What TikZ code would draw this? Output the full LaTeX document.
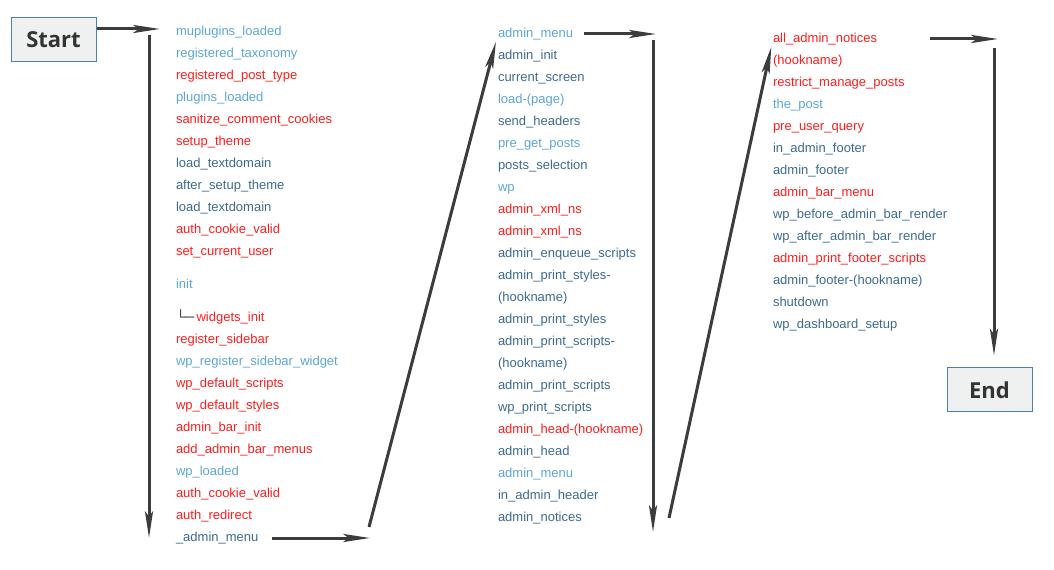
\documentclass[tikz,border=0pt]{standalone}
\usepackage{fontspec}
\setmainfont{Liberation Sans}
\newfontfamily\labelfont{Open Sans}
\usetikzlibrary{arrows.meta,positioning}
\definecolor{hookred}{HTML}{FF1C1C}
\definecolor{hookpale}{HTML}{5DA5D8}
\definecolor{hookdark}{HTML}{3D6990}
\definecolor{flowgray}{HTML}{3C3C3C}
\definecolor{boxfill}{HTML}{EFF0F0}
\definecolor{boxline}{HTML}{4A80AA}
\tikzset{
    terminal/.style={draw=boxline,fill=boxfill,line width=0.75pt,minimum width=63.75pt,minimum height=33pt,inner sep=0pt,text=black!80,font=\labelfont\bfseries\fontsize{16.5}{20}\selectfont},
    hook/.style={inner sep=0pt,outer sep=0pt,text height=8pt,text depth=2.5pt,font=\fontsize{9.75}{11}\selectfont},
    redhook/.style={hook,text=hookred},
    palehook/.style={hook,text=hookpale},
    darkhook/.style={hook,text=hookdark},
    hookbelow/.style={below=6pt of #1.south west,anchor=north west},
    gapbelow/.style={below=14.25pt of #1.south west,anchor=north west},
    flow/.style={-{Stealth[length=20pt,width=6pt,inset=4pt]},line width=2.25pt,draw=flowgray}
}

\begin{document}
\begin{tikzpicture}[x=0.75pt,y=-0.75pt]

                \useasboundingbox (0,0) rectangle (1054,570);

                \node[terminal] (start) at (53.5,40)                 {Start};
                \node[terminal] (end)   at (989.5,390)               {End};

                \node[palehook] (a 1)  [anchor=west] at (176,32)     {muplugins\_loaded};
                \node[palehook] (a 2)  [hookbelow=a 1]               {registered\_taxonomy};
                \node[redhook]  (a 3)  [hookbelow=a 2]               {registered\_post\_type};
                \node[palehook] (a 4)  [hookbelow=a 3]               {plugins\_loaded};
                \node[redhook]  (a 5)  [hookbelow=a 4]               {sanitize\_comment\_cookies};
                \node[redhook]  (a 6)  [hookbelow=a 5]               {setup\_theme};
                \node[darkhook] (a 7)  [hookbelow=a 6]               {load\_textdomain};
                \node[darkhook] (a 8)  [hookbelow=a 7]               {after\_setup\_theme};
                \node[darkhook] (a 9)  [hookbelow=a 8]               {load\_textdomain};
                \node[redhook]  (a 10) [hookbelow=a 9]               {auth\_cookie\_valid};
                \node[redhook]  (a 11) [hookbelow=a 10]              {set\_current\_user};
                \node[palehook] (a 12) [gapbelow=a 11]               {init};
                \node[redhook]  (a 13) [gapbelow=a 12]               {\textcolor{black!85}{\bfseries └─}\,widgets\_init};
                \node[redhook]  (a 14) [hookbelow=a 13]              {register\_sidebar};
                \node[palehook] (a 15) [hookbelow=a 14]              {wp\_register\_sidebar\_widget};
                \node[redhook]  (a 16) [hookbelow=a 15]              {wp\_default\_scripts};
                \node[redhook]  (a 17) [hookbelow=a 16]              {wp\_default\_styles};
                \node[redhook]  (a 18) [hookbelow=a 17]              {admin\_bar\_init};
                \node[redhook]  (a 19) [hookbelow=a 18]              {add\_admin\_bar\_menus};
                \node[palehook] (a 20) [hookbelow=a 19]              {wp\_loaded};
                \node[redhook]  (a 21) [hookbelow=a 20]              {auth\_cookie\_valid};
                \node[redhook]  (a 22) [hookbelow=a 21]              {auth\_redirect};
                \node[darkhook] (a 23) [hookbelow=a 22]              {\_admin\_menu};

                \node[palehook] (b 1)  [anchor=west] at (498,34)     {admin\_menu};
                \node[darkhook] (b 2)  [hookbelow=b 1]               {admin\_init};
                \node[darkhook] (b 3)  [hookbelow=b 2]               {current\_screen};
                \node[palehook] (b 4)  [hookbelow=b 3]               {load-(page)};
                \node[darkhook] (b 5)  [hookbelow=b 4]               {send\_headers};
                \node[palehook] (b 6)  [hookbelow=b 5]               {pre\_get\_posts};
                \node[darkhook] (b 7)  [hookbelow=b 6]               {posts\_selection};
                \node[palehook] (b 8)  [hookbelow=b 7]               {wp};
                \node[redhook]  (b 9)  [hookbelow=b 8]               {admin\_xml\_ns};
                \node[redhook]  (b 10) [hookbelow=b 9]               {admin\_xml\_ns};
                \node[darkhook] (b 11) [hookbelow=b 10]              {admin\_enqueue\_scripts};
                \node[darkhook] (b 12) [hookbelow=b 11]              {admin\_print\_styles-};
                \node[darkhook] (b 13) [hookbelow=b 12]              {(hookname)};
                \node[darkhook] (b 14) [hookbelow=b 13]              {admin\_print\_styles};
                \node[darkhook] (b 15) [hookbelow=b 14]              {admin\_print\_scripts-};
                \node[darkhook] (b 16) [hookbelow=b 15]              {(hookname)};
                \node[darkhook] (b 17) [hookbelow=b 16]              {admin\_print\_scripts};
                \node[darkhook] (b 18) [hookbelow=b 17]              {wp\_print\_scripts};
                \node[redhook]  (b 19) [hookbelow=b 18]              {admin\_head-(hookname)};
                \node[darkhook] (b 20) [hookbelow=b 19]              {admin\_head};
                \node[palehook] (b 21) [hookbelow=b 20]              {admin\_menu};
                \node[darkhook] (b 22) [hookbelow=b 21]              {in\_admin\_header};
                \node[darkhook] (b 23) [hookbelow=b 22]              {admin\_notices};

                \node[redhook]  (c 1)  [anchor=west] at (773,39)     {all\_admin\_notices};
                \node[redhook]  (c 2)  [hookbelow=c 1]               {(hookname)};
                \node[redhook]  (c 3)  [hookbelow=c 2]               {restrict\_manage\_posts};
                \node[palehook] (c 4)  [hookbelow=c 3]               {the\_post};
                \node[redhook]  (c 5)  [hookbelow=c 4]               {pre\_user\_query};
                \node[darkhook] (c 6)  [hookbelow=c 5]               {in\_admin\_footer};
                \node[darkhook] (c 7)  [hookbelow=c 6]               {admin\_footer};
                \node[redhook]  (c 8)  [hookbelow=c 7]               {admin\_bar\_menu};
                \node[darkhook] (c 9)  [hookbelow=c 8]               {wp\_before\_admin\_bar\_render};
                \node[darkhook] (c 10) [hookbelow=c 9]               {wp\_after\_admin\_bar\_render};
                \node[redhook]  (c 11) [hookbelow=c 10]              {admin\_print\_footer\_scripts};
                \node[darkhook] (c 12) [hookbelow=c 11]              {admin\_footer-(hookname)};
                \node[darkhook] (c 13) [hookbelow=c 12]              {shutdown};
                \node[darkhook] (c 14) [hookbelow=c 13]              {wp\_dashboard\_setup};

                \coordinate (start tip)    at (160,29);
                \coordinate (drop 1 top)   at (149,35);
                \coordinate (drop 1 end)   at (149,538);
                \coordinate (run 1 tip)    at (370,537);
                \coordinate (rise 1 foot)  at (369,527);
                \coordinate (run 2 tip)    at (656,32);
                \coordinate (drop 2 top)   at (653,40);
                \coordinate (drop 2 end)   at (653,532);
                \coordinate (rise 2 foot)  at (669,518);
                \coordinate (run 3 tip)    at (998,38);
                \coordinate (drop 3 top)   at (994,48);

                \draw[flow] (start.east |- start tip) -- (start tip);
                \draw[flow] (drop 1 top) -- (drop 1 end);
                \draw[flow,shorten <=10.5pt] (a 23.east) -- (a 23.east -| run 1 tip);
                \draw[flow,shorten >=6pt] (rise 1 foot) -- (b 1.west);
                \draw[flow,shorten <=8pt] (b 1.east) -- (b 1.east -| run 2 tip);
                \draw[flow] (drop 2 top) -- (drop 2 end);
                \draw[flow,shorten >=6pt] (rise 2 foot) -- (c 1.west);
                \draw[flow,shorten <=40pt] (c 1.east) -- (c 1.east -| run 3 tip);
                \draw[flow,shorten >=9pt] (drop 3 top) -- (drop 3 top |- end.north);

            \end{tikzpicture}
\end{document}
